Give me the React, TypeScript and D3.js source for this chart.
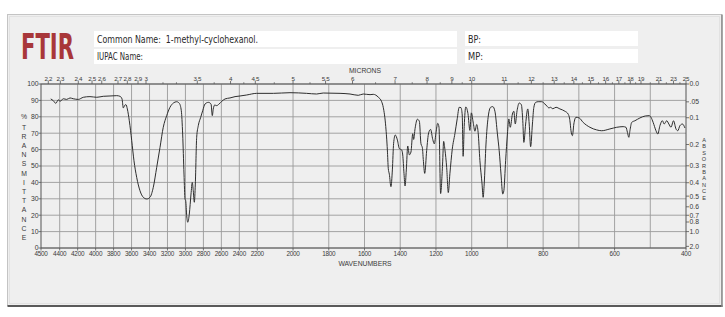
import React from "react";
import * as d3 from "d3";

// ---- data ----
const wavenumbers = [
  4448, 4434, 4421, 4407, 4397, 4360, 4322, 4285, 4249, 4193, 4137, 4063, 3988, 3915, 3840, 3765, 3729, 3706, 3692, 3676,
  3662, 3647, 3625, 3598, 3573, 3543, 3506, 3469, 3431, 3395, 3358, 3320, 3283, 3247, 3209, 3172, 3135, 3097, 3068, 3046,
  3031, 3016, 3005, 2997, 2986, 2975, 2957, 2938, 2924, 2913, 2901, 2890, 2875, 2857, 2830, 2808, 2782, 2745, 2715, 2701,
  2690, 2674, 2652, 2626, 2596, 2559, 2504, 2448, 2392, 2318, 2207, 2110, 2017, 1924, 1868, 1831, 1737, 1681, 1635, 1607,
  1569, 1551, 1523, 1504, 1495, 1481, 1472, 1467, 1461, 1452, 1444, 1437, 1428, 1416, 1405, 1392, 1386, 1379, 1373, 1366,
  1358, 1349, 1340, 1330, 1325, 1317, 1304, 1293, 1284, 1276, 1271, 1263, 1252, 1241, 1230, 1218, 1209, 1200, 1190, 1183,
  1174, 1163, 1157, 1150, 1140, 1131, 1122, 1109, 1094, 1081, 1070, 1060, 1053, 1048, 1042, 1033, 1021, 1010, 1002, 996,
  991, 986, 982, 977, 971, 968, 965, 960, 954, 947, 941, 935, 928, 923, 918, 913, 910, 905, 900, 896,
  892, 886, 882, 878, 873, 867, 861, 857, 854, 849, 843, 839, 835, 830, 826, 821, 814, 804, 795, 788,
  784, 779, 773, 764, 753, 739, 730, 725, 722, 718, 714, 708, 699, 688, 669, 650, 636, 613, 594, 576,
  568, 564, 560, 557, 552, 543, 529, 514, 503, 498, 492, 484, 479, 473, 466, 461, 454, 448, 442, 435,
  428, 423, 417, 410, 403,
];
const transmittance = [
  90.9, 89.8, 88.2, 90.4, 89.4, 91.0, 90.6, 91.5, 91.0, 90.6, 91.9, 92.3, 91.9, 92.5, 92.7, 92.9, 92.5, 90.9, 85.4, 87.0,
  87.4, 84.8, 77.6, 65.4, 53.2, 43.1, 34.9, 30.9, 29.9, 30.9, 37.0, 49.2, 61.4, 73.6, 80.7, 85.8, 88.4, 89.2, 88.2, 83.7,
  69.5, 45.1, 29.9, 28.8, 19.7, 15.7, 20.7, 32.9, 40.0, 34.9, 27.9, 39.0, 67.5, 74.6, 79.7, 83.7, 87.8, 88.8, 87.8, 80.7,
  84.8, 87.2, 86.8, 87.8, 89.4, 90.9, 91.5, 92.3, 92.7, 93.3, 94.3, 94.3, 94.7, 94.3, 93.9, 94.5, 94.3, 93.9, 93.1, 93.9,
  93.5, 93.7, 92.0, 89.2, 85.8, 74.0, 59.8, 48.6, 45.0, 37.4, 47.6, 63.8, 68.9, 65.9, 60.6, 59.8, 56.7, 45.5, 37.8, 47.6,
  62.2, 56.8, 58.5, 69.7, 66.2, 72.8, 78.5, 77.3, 63.6, 61.1, 54.0, 45.5, 59.5, 70.2, 72.3, 66.2, 63.5, 70.3, 76.0, 73.6,
  33.2, 51.2, 65.0, 60.1, 49.0, 33.8, 45.3, 60.1, 69.7, 78.8, 85.8, 85.6, 81.1, 55.9, 74.0, 86.0, 82.0, 71.7, 82.4, 76.8,
  71.2, 75.3, 70.5, 53.2, 39.0, 30.9, 39.0, 63.4, 79.7, 85.8, 86.2, 83.4, 69.5, 59.3, 45.1, 32.9, 34.9, 53.2, 69.5, 78.7,
  73.6, 81.7, 83.4, 75.6, 83.7, 88.4, 87.4, 77.6, 64.4, 75.6, 84.8, 75.6, 61.8, 75.6, 85.8, 88.8, 89.2, 89.2, 87.8, 86.2,
  85.4, 85.8, 84.9, 85.8, 84.8, 83.4, 81.7, 77.6, 71.5, 68.5, 75.6, 79.7, 79.3, 76.6, 73.6, 72.0, 71.5, 72.6, 73.6, 74.0,
  73.6, 70.5, 67.5, 71.5, 76.6, 77.6, 79.3, 80.5, 80.7, 79.7, 76.6, 71.5, 69.5, 74.6, 77.6, 75.6, 77.6, 75.6, 73.6, 77.6,
  72.6, 71.5, 74.6, 75.6, 73.2,
];

// axis ticks
const wavenumberLabels = [4500, 4400, 4200, 4000, 3800, 3600, 3400, 3200, 3000, 2800, 2600, 2400, 2200, 2000, 1800, 1600, 1400, 1200, 1000, 800, 600, 400];
const wavenumberGrid = [4400, 4200, 4000, 3800, 3600, 3400, 3200, 3000, 2800, 2600, 2400, 2200, 2000, 1800, 1600, 1400, 1200, 1000, 900, 800, 700, 600, 500];
const micronLabels = ["2.2", "2.3", "2.4", "2.5", "2.6", "2.7", "2.8", "2.9", "3", "3.5", "4", "4.5", "5", "5.5", "6", "7", "8", "9", "10", "11", "12", "13", "14", "15", "16", "17", "18", "19", "21", "23", "25"];
// wavenumber position where each micron label sits on the printed chart
const micronPositions = [4461, 4393, 4193, 4040, 3932, 3751, 3647, 3528, 3439, 2868, 2498, 2222, 2000, 1818, 1667, 1429, 1250, 1111, 1000, 909, 833, 769, 714, 667, 625, 588, 556, 526, 476, 435, 400];
const micronMinor = [3250, 3100, 2680, 2350, 2105, 1905, 1538, 1333, 1176, 1053, 870, 800, 741, 690, 645, 606, 571, 541, 500, 455, 417];
const transmittanceTicks = [0, 10, 20, 30, 40, 50, 60, 70, 80, 90, 100];
const absorbanceTicks = [0, 0.05, 0.1, 0.2, 0.3, 0.4, 0.5, 0.6, 0.7, 0.8, 1.0, 2.0];
const absorbanceLabels = ["0.0", ".05", "0.1", "0.2", "0.3", "0.4", "0.5", "0.6", "0.7", "0.8", "1.0", "2.0"];

const commonName = "1-methyl-cyclohexanol.";

export default function App() {
  const left = 41, right = 686, top = 84, bottom = 248;
  const x = d3
    .scaleLinear()
    .domain([4500, 4400, 2200, 1000, 400])
    .range([left, 59.7, 257.3, 471.7, right]);
  const y = d3.scaleLinear().domain([0, 100]).range([bottom, top]);

  const pts: [number, number][] = wavenumbers.map((w, i) => [x(w), y(transmittance[i])]);
  const path = d3.line().curve(d3.curveMonotoneX)(pts) || "";

  const tickFont = "'Liberation Sans', Arial, sans-serif";
  const condensed = "'Liberation Sans Narrow', 'DejaVu Sans Condensed', 'Liberation Sans', sans-serif";
  const txtCol = "#3a3a3a";
  const gridCol = "#9a9a9a";

  return (
    <svg width={725} height={317} style={{ position: "absolute", left: 0, top: 0 }} xmlns="http://www.w3.org/2000/svg">
      <rect x={0} y={0} width={725} height={317} fill="#ffffff" />
      {/* panel */}
      <rect x={7.5} y={14.5} width={714} height={291} fill="#efefef" stroke="#c4c4c4" strokeWidth={1} />
      <rect x={9.5} y={16.5} width={710} height={287} fill="none" stroke="#e2e2e2" strokeWidth={1} />
      <line x1={7.5} y1={306} x2={722.5} y2={306} stroke="#5a5a5a" strokeWidth={2} />
      <line x1={722} y1={14.5} x2={722} y2={307} stroke="#8a8a8a" strokeWidth={1.5} />

      {/* header */}
      <text x={21} y={58.5} fill="#a8373a" fontFamily={condensed} fontWeight="bold" fontSize={36} textLength={53} lengthAdjust="spacingAndGlyphs">FTIR</text>
      <rect x={94} y={31} width={363} height={16} fill="#ffffff" />
      <rect x={94} y={49} width={363} height={15} fill="#ffffff" />
      <rect x={465} y={31} width={173} height={15} fill="#ffffff" />
      <rect x={465} y={49} width={173} height={14} fill="#ffffff" />
      <text x={97} y={42.5} fill="#2a2a2a" fontFamily={condensed} fontSize={10.5} textLength={161} lengthAdjust="spacingAndGlyphs">{"Common Name:\u00a0\u00a0" + commonName}</text>
      <text x={97} y={60} fill="#2a2a2a" fontFamily={condensed} fontSize={10.5} textLength={46} lengthAdjust="spacingAndGlyphs">IUPAC Name:</text>
      <text x={468} y={42.5} fill="#2a2a2a" fontFamily={condensed} fontSize={10.5} textLength={13} lengthAdjust="spacingAndGlyphs">BP:</text>
      <text x={468} y={60} fill="#2a2a2a" fontFamily={condensed} fontSize={10.5} textLength={15} lengthAdjust="spacingAndGlyphs">MP:</text>

      {/* grid */}
      {transmittanceTicks.map((t) => (
        <line key={"h" + t} x1={left} x2={right} y1={y(t)} y2={y(t)} stroke={gridCol} strokeWidth={0.9} />
      ))}
      {wavenumberGrid.map((w) => (
        <line key={"v" + w} x1={x(w)} x2={x(w)} y1={top} y2={bottom} stroke={gridCol} strokeWidth={0.9} />
      ))}
      <rect x={left} y={top} width={right - left} height={bottom - top} fill="none" stroke="#555" strokeWidth={1} />

      {/* bottom axis */}
      {wavenumberLabels.map((w) => (
        <g key={"b" + w}>
          <line x1={x(w)} x2={x(w)} y1={bottom} y2={bottom + 2.5} stroke="#555" strokeWidth={0.8} />
          <text x={x(w)} y={256} textAnchor="middle" fontFamily={tickFont} fontSize={6.4} fill={txtCol} letterSpacing={-0.25}>{w}</text>
        </g>
      ))}
      <text x={365} y={266} textAnchor="middle" fontFamily={tickFont} fontSize={6.8} fill={txtCol}>WAVENUMBERS</text>

      {/* top micron axis */}
      {micronPositions.map((w, i) => (
        <g key={"m" + i}>
          <line x1={x(w)} x2={x(w)} y1={top} y2={top - 3} stroke="#555" strokeWidth={0.8} />
          <text x={x(w)} y={80.5} textAnchor="middle" fontFamily={tickFont} fontSize={6.2} fill={txtCol} letterSpacing={-0.3}>{micronLabels[i]}</text>
        </g>
      ))}
      {micronMinor.map((w) => (
        <line key={"mm" + w} x1={x(w)} x2={x(w)} y1={top} y2={top - 1.8} stroke="#555" strokeWidth={0.7} />
      ))}
      <text x={365} y={73} textAnchor="middle" fontFamily={tickFont} fontSize={6.8} fill={txtCol}>MICRONS</text>

      {/* left axis */}
      {transmittanceTicks.map((t) => (
        <g key={"l" + t}>
          <line x1={left - 2.5} x2={left} y1={y(t)} y2={y(t)} stroke="#555" strokeWidth={0.8} />
          <text x={38.5} y={y(t) + 2.4} textAnchor="end" fontFamily={tickFont} fontSize={6.8} fill={txtCol}>{t}</text>
        </g>
      ))}
      <text x={24} y={y(80) + 2.4} textAnchor="middle" fontFamily={tickFont} fontSize={6.8} fill={txtCol}>%</text>
      {"TRANSMITTANCE".split("").map((c, i) => (
        <text key={"tr" + i} x={24} y={129.5 + i * 9.2} textAnchor="middle" fontFamily={tickFont} fontSize={6.8} fill={txtCol}>{c}</text>
      ))}

      {/* right absorbance axis */}
      {absorbanceTicks.map((a, i) => {
        const yy = y(100 * Math.pow(10, -a));
        return (
          <g key={"r" + i}>
            <line x1={right} x2={right + 3} y1={yy} y2={yy} stroke="#555" strokeWidth={0.8} />
            <text x={right + 3.5} y={yy + 2.4} fontFamily={tickFont} fontSize={6.8} fill={txtCol}>{absorbanceLabels[i]}</text>
          </g>
        );
      })}
      {"ABSORBANCE".split("").map((c, i) => (
        <text key={"ab" + i} x={704} y={142 + i * 6.4} textAnchor="middle" fontFamily={tickFont} fontSize={5.6} fill={txtCol}>{c}</text>
      ))}

      {/* spectrum */}
      <path d={path} fill="none" stroke="#2e2e2e" strokeWidth={1} strokeLinejoin="round" />
    </svg>
  );
}
